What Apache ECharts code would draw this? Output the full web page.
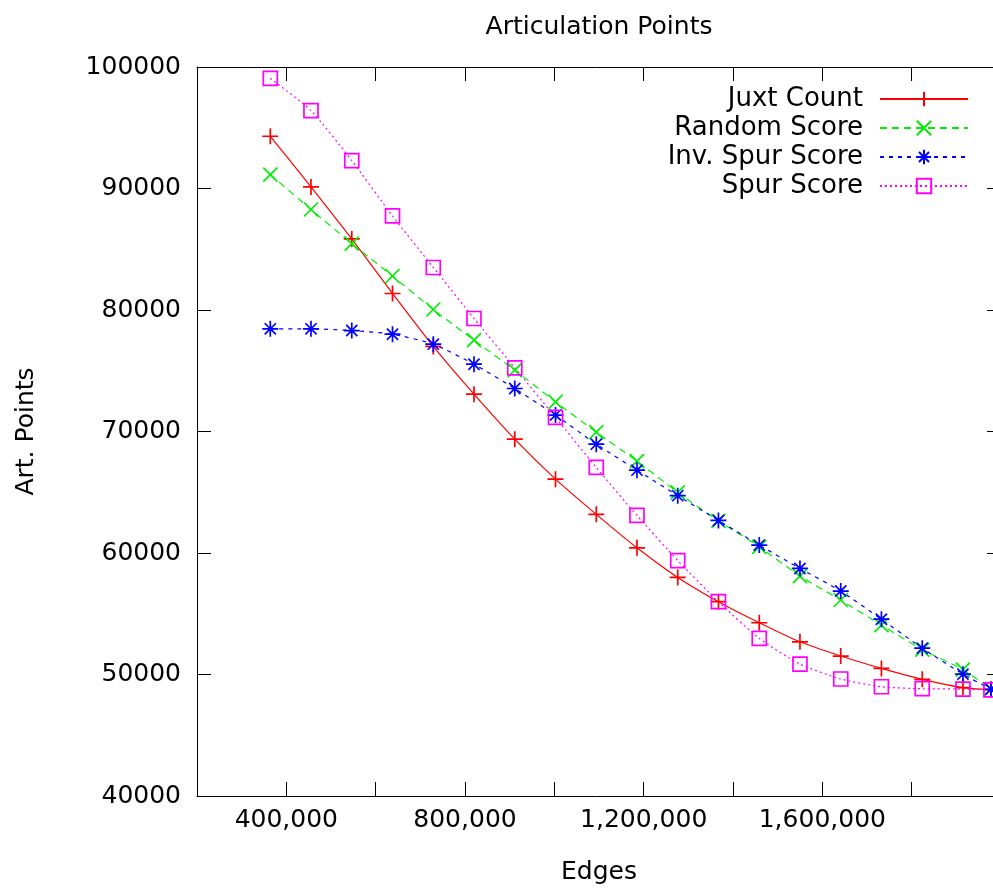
<!DOCTYPE html>
<html>
<head>
<meta charset="utf-8">
<script src="https://cdn.jsdelivr.net/npm/echarts@6/dist/echarts.min.js"></script>
<style>
  html, body { margin: 0; padding: 0; background: #fff; }
  #chart { width: 993px; height: 888px; }
</style>
</head>
<body>
<div id="chart"></div>
<script>
// edges (x) shared by every series
var edges = [364100, 455200, 546500, 637700, 729000, 820100, 911400, 1002600, 1093900, 1185000,
             1276300, 1367400, 1458800, 1549900, 1641200, 1732300, 1823700, 1914800, 1977500];
var juxtCount = [94300, 90130, 85850, 81360, 77000, 73070, 69370, 66080, 63180, 60430,
                 57990, 55990, 54260, 52690, 51520, 50500, 49600, 48920, 48750];
var randomScore = [91150, 88270, 85470, 82800, 80040, 77520, 75050, 72440, 69950, 67560,
                   64990, 62650, 60510, 58100, 56130, 54070, 52050, 50400, 48800];
var invSpurScore = [78450, 78450, 78310, 78010, 77190, 75540, 73540, 71350, 68960, 66820,
                    64720, 62680, 60650, 58730, 56870, 54550, 52170, 50030, 48780];
var spurScore = [99070, 96410, 92300, 87740, 83500, 79300, 75240, 71160, 67040, 63090,
                 59380, 55990, 52970, 50860, 49630, 48990, 48830, 48800, 48730];
var seriesNames = ['Juxt Count', 'Random Score', 'Inv. Spur Score', 'Spur Score'];

var FONT = 'DejaVu Sans';

function pairs(ys) {
  return ys.map(function (y, i) { return [edges[i], y]; });
}

var plusPath = 'path://M0,5L10,5M5,0L5,10';
var crossPath = 'path://M0,0L10,10M10,0L0,10';
var starPath = 'path://M0,5L10,5M5,0L5,10M1.5,1.5L8.5,8.5M8.5,1.5L1.5,8.5';
var squarePath = 'path://M0,0L10,0L10,10L0,10Z';

function makeSeries(name, ys, color, dash, symbol, size) {
  return {
    name: name,
    type: 'line',
    data: pairs(ys),
    smooth: 0.2,
    symbol: symbol,
    symbolSize: size,
    showAllSymbol: true,
    lineStyle: { color: color, width: 1.2, type: dash },
    itemStyle: { color: 'rgba(0,0,0,0)', borderColor: color, borderWidth: 1.7 },
    emphasis: { disabled: true },
    animation: false
  };
}

var myChart = echarts.init(document.getElementById('chart'));

var legends = seriesNames.map(function (n, i) {
  return {
    data: [n],
    right: 19,
    top: 81 + i * 29,
    align: 'right',
    itemWidth: 88,
    itemHeight: 18,
    selectedMode: false,
    textStyle: { fontFamily: FONT, fontSize: 26, color: '#000', padding: [0, 12, 0, 0] }
  };
});

var option = {
  backgroundColor: '#fff',
  animation: false,
  legend: legends,
  // plot runs past the right edge of the canvas, as in the cropped original
  grid: { left: 197, width: 804, top: 67, bottom: 92, containLabel: false, outerBoundsMode: 'none' },
  xAxis: [
    {
      type: 'value',
      min: 200000,
      max: 2000000,
      interval: 200000,
      name: 'Edges',
      nameLocation: 'middle',
      nameGap: 64,
      nameTextStyle: { fontFamily: FONT, fontSize: 25, color: '#000' },
      axisLine: { lineStyle: { color: '#000', width: 1 } },
      axisTick: { inside: true, length: 14, lineStyle: { color: '#000' } },
      axisLabel: {
        fontFamily: FONT, fontSize: 25, color: '#000', margin: 12,
        formatter: function (v) {
          return (v % 400000 === 0 && v < 2000000) ? v.toLocaleString('en-US') : '';
        }
      },
      splitLine: { show: false }
    },
    {
      type: 'value',
      position: 'top',
      min: 200000,
      max: 2000000,
      interval: 200000,
      name: 'Articulation Points',
      nameLocation: 'middle',
      nameGap: 27,
      nameTextStyle: { fontFamily: FONT, fontSize: 25, color: '#000' },
      axisLine: { lineStyle: { color: '#000', width: 1 } },
      axisTick: { inside: true, length: 14, lineStyle: { color: '#000' } },
      axisLabel: { show: false },
      splitLine: { show: false }
    }
  ],
  yAxis: [
    {
      type: 'value',
      min: 40000,
      max: 100000,
      interval: 10000,
      name: 'Art. Points',
      nameLocation: 'middle',
      nameRotate: 90,
      nameGap: 158,
      nameTextStyle: { fontFamily: FONT, fontSize: 25, color: '#000' },
      axisLine: { show: true, lineStyle: { color: '#000', width: 1 } },
      axisTick: { show: true, inside: true, length: 14, lineStyle: { color: '#000' } },
      axisLabel: {
        fontFamily: FONT, fontSize: 25, color: '#000', margin: 16,
        formatter: function (v) { return String(v); }
      },
      splitLine: { show: false }
    },
    {
      type: 'value',
      position: 'right',
      min: 40000,
      max: 100000,
      interval: 10000,
      axisLine: { show: true, lineStyle: { color: '#000', width: 1 } },
      axisTick: { show: true, inside: true, length: 14, lineStyle: { color: '#000' } },
      axisLabel: { show: false },
      splitLine: { show: false }
    }
  ],
  series: [
    makeSeries('Juxt Count', juxtCount, '#ff0000', 'solid', plusPath, 16),
    makeSeries('Random Score', randomScore, '#00ee00', [7, 5], crossPath, 14),
    makeSeries('Inv. Spur Score', invSpurScore, '#0000ff', [4, 5], starPath, 16),
    makeSeries('Spur Score', spurScore, '#ff00ff', [2, 3], squarePath, 14)
  ]
};
myChart.setOption(option);
</script>
</body>
</html>
